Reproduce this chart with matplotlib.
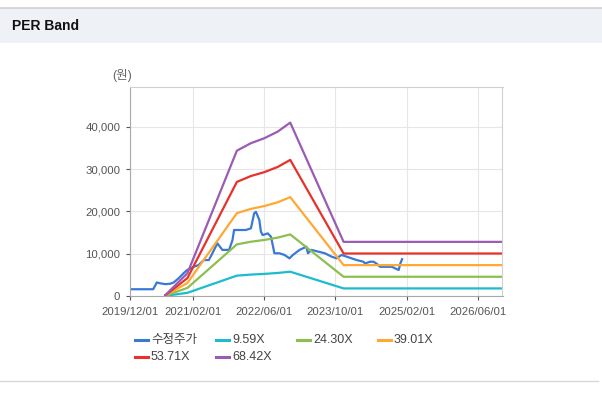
import matplotlib
matplotlib.use("Agg")
import matplotlib.pyplot as plt
from matplotlib.lines import Line2D
from matplotlib.patches import Rectangle
import pandas as pd

plt.rcParams['font.family'] = ['Liberation Sans', 'Noto Sans CJK KR', 'DejaVu Sans']

# 수정주가 (adjusted price)
price_dates = ["2019-12-01", "2020-05-07", "2020-06-01", "2020-06-24", "2020-07-29",
               "2020-09-01", "2020-09-24", "2020-10-28", "2020-12-01", "2020-12-25",
               "2021-01-16", "2021-02-08", "2021-03-12", "2021-04-18", "2021-05-22",
               "2021-06-15", "2021-07-19", "2021-08-22", "2021-10-07", "2021-10-30",
               "2021-11-10", "2021-12-14", "2022-01-29", "2022-03-05", "2022-03-27",
               "2022-04-08", "2022-05-01", "2022-05-12", "2022-05-24", "2022-06-28",
               "2022-07-20", "2022-08-12", "2022-09-15", "2022-10-20", "2022-11-23",
               "2022-12-16", "2023-01-31", "2023-03-18", "2023-03-29", "2023-04-21",
               "2023-06-06", "2023-07-22", "2023-09-06", "2023-10-10", "2023-11-13",
               "2023-12-18", "2024-02-24", "2024-04-10", "2024-04-21", "2024-05-26",
               "2024-06-18", "2024-07-11", "2024-08-02", "2024-10-22", "2024-11-14",
               "2024-12-07", "2024-12-18", "2024-12-30"]
price_vals = [1600, 1600, 3200, 3000, 2800,
              2900, 3200, 4200, 5400, 6150,
              6500, 6900, 7300, 8500, 8500,
              10100, 12450, 10900, 10900, 13200,
              15600, 15600, 15600, 16000, 19550,
              19900, 18000, 15200, 14400, 14800,
              14000, 10100, 10100, 9700, 8900,
              9700, 10900, 11650, 10100, 10900,
              10500, 10100, 9300, 8900, 9700,
              9300, 8500, 8100, 7700, 8100,
              8100, 7600, 6900, 6900, 6500,
              6150, 7700, 8700]

# EPS behind the bands
eps_dates = ["2020-07-29", "2020-12-27", "2021-11-29", "2022-03-05", "2022-06-04",
             "2022-09-04", "2022-11-28", "2023-11-27", "2026-11-15"]
eps_vals = [3, 79, 502, 528, 545, 568, 599, 187, 187]

multiples = [9.59, 24.30, 39.01, 53.71, 68.42]
band_labels = ["9.59X", "24.30X", "39.01X", "53.71X", "68.42X"]
band_colors = ["#1dbccc", "#8cbf4f", "#ffa833", "#e8312a", "#9b5bb5"]
price_color = "#3a78d8"

x_ticks = ["2019/12/01", "2021/02/01", "2022/06/01", "2023/10/01", "2025/02/01", "2026/06/01"]
y_ticks = [0, 10000, 20000, 30000, 40000]

W, H = 602, 393
fig = plt.figure(figsize=(W / 100, H / 100), dpi=100)
fig.patch.set_facecolor("white")

# header band
fig.add_artist(Rectangle((0, 1 - 43 / H), 1, 35 / H, transform=fig.transFigure,
                         facecolor="#eef2f7", edgecolor="none"))
fig.add_artist(Line2D([0, 1], [1 - 8 / H, 1 - 8 / H], transform=fig.transFigure,
                      color="#d0d0d0", lw=1.2))
fig.add_artist(Line2D([0, 598 / W], [1 - 381 / H, 1 - 381 / H], transform=fig.transFigure,
                      color="#d8d8d8", lw=1))
fig.text(12 / W, 1 - 26 / H, "PER Band", fontsize=10, fontweight="bold",
         color="#111111", va="center", ha="left")

ax = fig.add_axes([130 / W, 1 - 296 / H, 372.5 / W, 209 / H])

pdates = pd.to_datetime(price_dates)
edates = pd.to_datetime(eps_dates)

handles = []
h, = ax.plot(pdates, price_vals, color=price_color, lw=1.6, label="수정주가")
handles.append(h)
for m, lab, c in zip(multiples, band_labels, band_colors):
    h, = ax.plot(edates, [e * m for e in eps_vals], color=c, lw=1.6, label=lab)
    handles.append(h)

ax.set_xlim(pd.Timestamp("2019-12-01"), pd.Timestamp("2026-11-15"))
ax.set_ylim(0, 49400)
ax.set_xticks(pd.to_datetime(x_ticks))
ax.set_xticklabels(x_ticks)
ax.set_yticks(y_ticks)
ax.set_yticklabels([f"{v:,}" for v in y_ticks])
ax.tick_params(axis="both", labelsize=8.2, colors="#555555", length=3, width=0.8)
ax.tick_params(axis="x", pad=5)
ax.tick_params(axis="y", pad=4)
ax.grid(True, color="#e6e6e6", lw=0.8)
ax.set_axisbelow(True)
for side in ["top", "right"]:
    ax.spines[side].set_color("#d0d0d0")
for side in ["left", "bottom"]:
    ax.spines[side].set_color("#a8a8a8")

fig.text(112 / W, 1 - 75 / H, "(원)", fontsize=9, color="#666666", va="center", ha="left")

# legend: 4 fixed-width columns
for i, h in enumerate(handles):
    col, row = i % 4, i // 4
    x0 = 135 + col * 81
    y0 = 1 - (340 + row * 17) / H
    fig.add_artist(Line2D([x0 / W, (x0 + 13) / W], [y0, y0], transform=fig.transFigure,
                          color=h.get_color(), lw=2.2))
    fig.text((x0 + 16) / W, y0, h.get_label(), fontsize=9, color="#444444",
             va="center", ha="left")

fig.savefig("out.png", dpi=100)
